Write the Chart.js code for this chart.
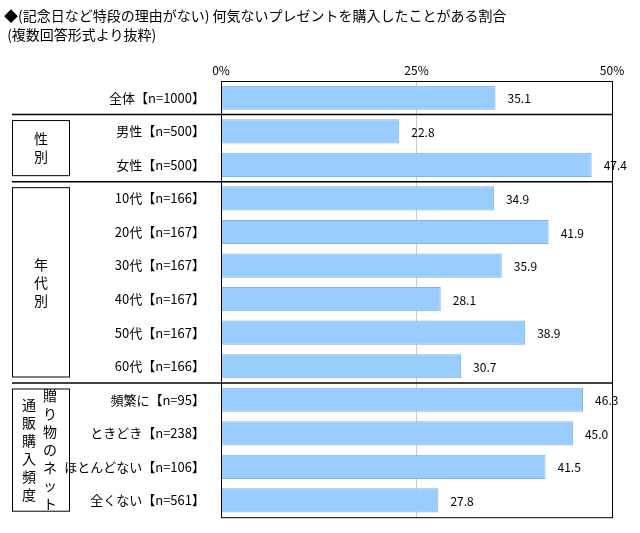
<!DOCTYPE html>
<html>
<head>
<meta charset="utf-8">
<script src="https://cdn.jsdelivr.net/npm/chart.js@4"></script>
<style>
 body { margin:0; background:#fff; font-family:"Noto Sans CJK JP",sans-serif; }
 #wrap { position:relative; width:640px; height:533px; }
 #title { position:absolute; left:4px; top:6px; font-size:14px; line-height:19px; color:#000; }
</style>
</head>
<body>
<div id="wrap">
 <canvas id="chart" width="640" height="533"></canvas>
 <div id="title">◆(記念日など特段の理由がない) 何気ないプレゼントを購入したことがある割合<br>&nbsp;(複数回答形式より抜粋)</div>
</div>
<script>
var labels = ["全体【n=1000】", "男性【n=500】", "女性【n=500】",
  "10代【n=166】", "20代【n=167】", "30代【n=167】", "40代【n=167】", "50代【n=167】", "60代【n=166】",
  "頻繁に【n=95】", "ときどき【n=238】", "ほとんどない【n=106】", "全くない【n=561】"];
var values = [35.1, 22.8, 47.4, 34.9, 41.9, 35.9, 28.1, 38.9, 30.7, 46.3, 45.0, 41.5, 27.8];
var separators = [0, 2, 8];
var groups = [
  { from: 1, to: 2, cols: ["性別"] },
  { from: 3, to: 8, cols: ["年代別"] },
  { from: 9, to: 12, cols: ["通販購入頻度", "贈り物のネット"] }
];
var FONT = "'Noto Sans CJK JP', sans-serif";

var decor = {
  id: 'decor',
  afterDraw: function (chart) {
    var c = chart.ctx, y = chart.scales.y, area = chart.chartArea;
    var meta = chart.getDatasetMeta(0);
    c.save();
    // value labels
    c.fillStyle = '#000';
    c.font = '12px ' + FONT;
    c.textBaseline = 'middle';
    meta.data.forEach(function (bar, i) {
      c.fillText(values[i].toFixed(1), bar.x + 12, bar.y + 1);
    });
    // separators
    c.strokeStyle = '#000';
    c.lineWidth = 1.5;
    separators.forEach(function (i) {
      var yy = (y.getPixelForValue(i) + y.getPixelForValue(i + 1)) / 2;
      c.beginPath(); c.moveTo(12, yy); c.lineTo(area.right, yy); c.stroke();
    });
    // group boxes
    c.lineWidth = 1;
    c.font = '14px ' + FONT;
    c.textAlign = 'center';
    groups.forEach(function (g) {
      var half = (y.getPixelForValue(1) - y.getPixelForValue(0)) / 2;
      var top = y.getPixelForValue(g.from) - half + 6;
      var bot = y.getPixelForValue(g.to) + half - 6;
      c.strokeRect(12.5, top, 57, bot - top);
      var mid = (top + bot) / 2;
      var n = g.cols.length;
      g.cols.forEach(function (txt, k) {
        var x = n === 1 ? 41 : (k === 0 ? 29 : 50);
        var step = 18;
        var start = mid - (txt.length - 1) * step / 2 + (k === 1 ? 0 : 0);
        for (var j = 0; j < txt.length; j++) {
          c.fillText(txt[j], x, start + j * step);
        }
      });
    });
    c.restore();
  }
};

new Chart(document.getElementById('chart'), {
  type: 'bar',
  data: {
    labels: labels,
    datasets: [{
      data: values,
      backgroundColor: '#99CCFF',
      borderColor: '#7FB2E5',
      borderWidth: 1,
      categoryPercentage: 1,
      barPercentage: 0.72
    }]
  },
  options: {
    indexAxis: 'y',
    responsive: false,
    animation: false,
    layout: { padding: { top: 55, right: 28, bottom: 14, left: 0 } },
    plugins: { legend: { display: false }, tooltip: { enabled: false } },
    scales: {
      x: {
        position: 'top', min: 0, max: 50,
        ticks: { stepSize: 25, color: '#000', font: { size: 12, family: FONT }, callback: function (v) { return v + '%'; } },
        grid: { color: function (ctx) { return ctx.tick.value === 25 ? '#ccc' : 'rgba(0,0,0,0)'; }, drawTicks: false },
        border: { display: false },
        afterFit: function (s) { s.height = 26; }
      },
      y: {
        ticks: { color: '#000', font: { size: 13, family: FONT }, padding: 8 },
        grid: { display: false },
        border: { color: '#000' },
        afterFit: function (s) { s.width = 221; }
      }
    }
  },
  plugins: [decor, {
    id: 'frame',
    afterDatasetsDraw: function (chart) {
      var a = chart.chartArea, c = chart.ctx;
      c.save(); c.strokeStyle = '#000'; c.lineWidth = 1;
      c.strokeRect(a.left + 0.5, a.top + 0.5, a.width, a.height);
      c.restore();
    }
  }]
});
</script>
</body>
</html>
